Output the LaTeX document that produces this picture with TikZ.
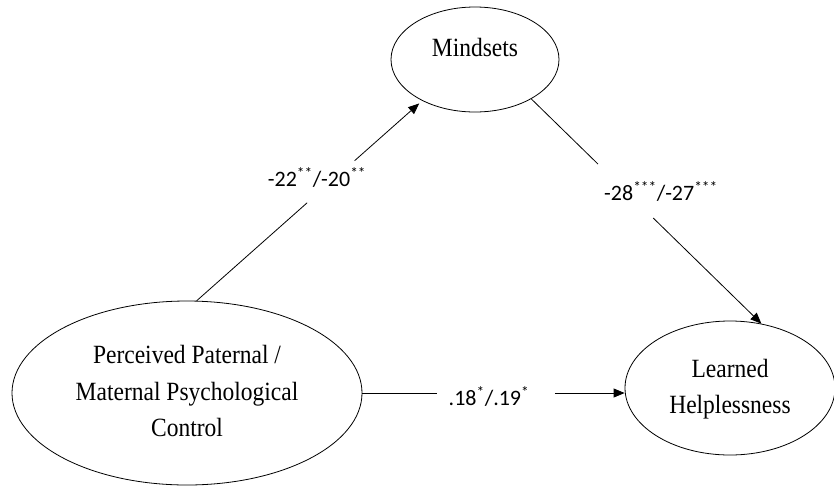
\documentclass[tikz,border=0pt]{standalone}
\usepackage{fontspec}
\setmainfont{Liberation Serif}
\newfontfamily\labfont{Carlito}
\newfontfamily\latfont{Liberation Serif}
\usetikzlibrary{shapes.geometric,arrows.meta,calc}
\newcommand\tallbox[1]{\scalebox{1}[1.12]{\begin{tabular}{@{}c@{}}#1\end{tabular}}}
\begin{document}
\begin{tikzpicture}[x=1pt,y=-1pt,
  latent/.style={draw, ellipse, line width=0.8pt, inner sep=0pt, align=center, font=\latfont\fontsize{23.5}{32.5}\selectfont},
  conn/.style={line width=0.8pt},
  arr/.style={conn, -{Triangle[length=11pt,width=9pt]}},
  coef/.style={font=\labfont\fontsize{22}{26}\selectfont, inner sep=0pt, anchor=base}]
\useasboundingbox (0,0) rectangle (834,485);
\node[latent, minimum width=168pt, minimum height=105pt] (mind) at (475,59.5) {\raisebox{10pt}[\height][\depth]{\tallbox{Mindsets}}};
\node[latent, minimum width=350pt, minimum height=184pt] (ppc) at (187,393) {\tallbox{Perceived Paternal /\\Maternal Psychological\\Control}};
\node[latent, minimum width=210pt, minimum height=134pt] (lh) at (730,388) {\tallbox{Learned\\Helplessness}};
% PPC -> Mindsets
\draw[conn] (ppc.84) -- ($(ppc.84)!0.49!(mind.-142)$);
\draw[arr, shorten >=4pt] ($(ppc.84)!0.70!(mind.-142)$) -- (mind.-142);
\node[coef] (l1) at (317,186) {-22\textsuperscript{**}/-20\textsuperscript{**}};
% Mindsets -> LH
\draw[conn] (mind.-35) -- ($(mind.-35)!0.29!(lh.64)$);
\draw[arr] ($(mind.-35)!0.53!(lh.64)$) -- (lh.64);
\node[coef] (l2) at (661,200) {-28\textsuperscript{***}/-27\textsuperscript{***}};
% PPC -> LH
\draw[conn] (ppc.east) -- ($(ppc.east)!0.285!(ppc.east -| lh.west)$);
\draw[arr] ($(ppc.east)!0.734!(ppc.east -| lh.west)$) -- (ppc.east -| lh.west);
\node[coef] (l3) at (489,405) {.18\textsuperscript{*}/.19\textsuperscript{*}};
\end{tikzpicture}
\end{document}
